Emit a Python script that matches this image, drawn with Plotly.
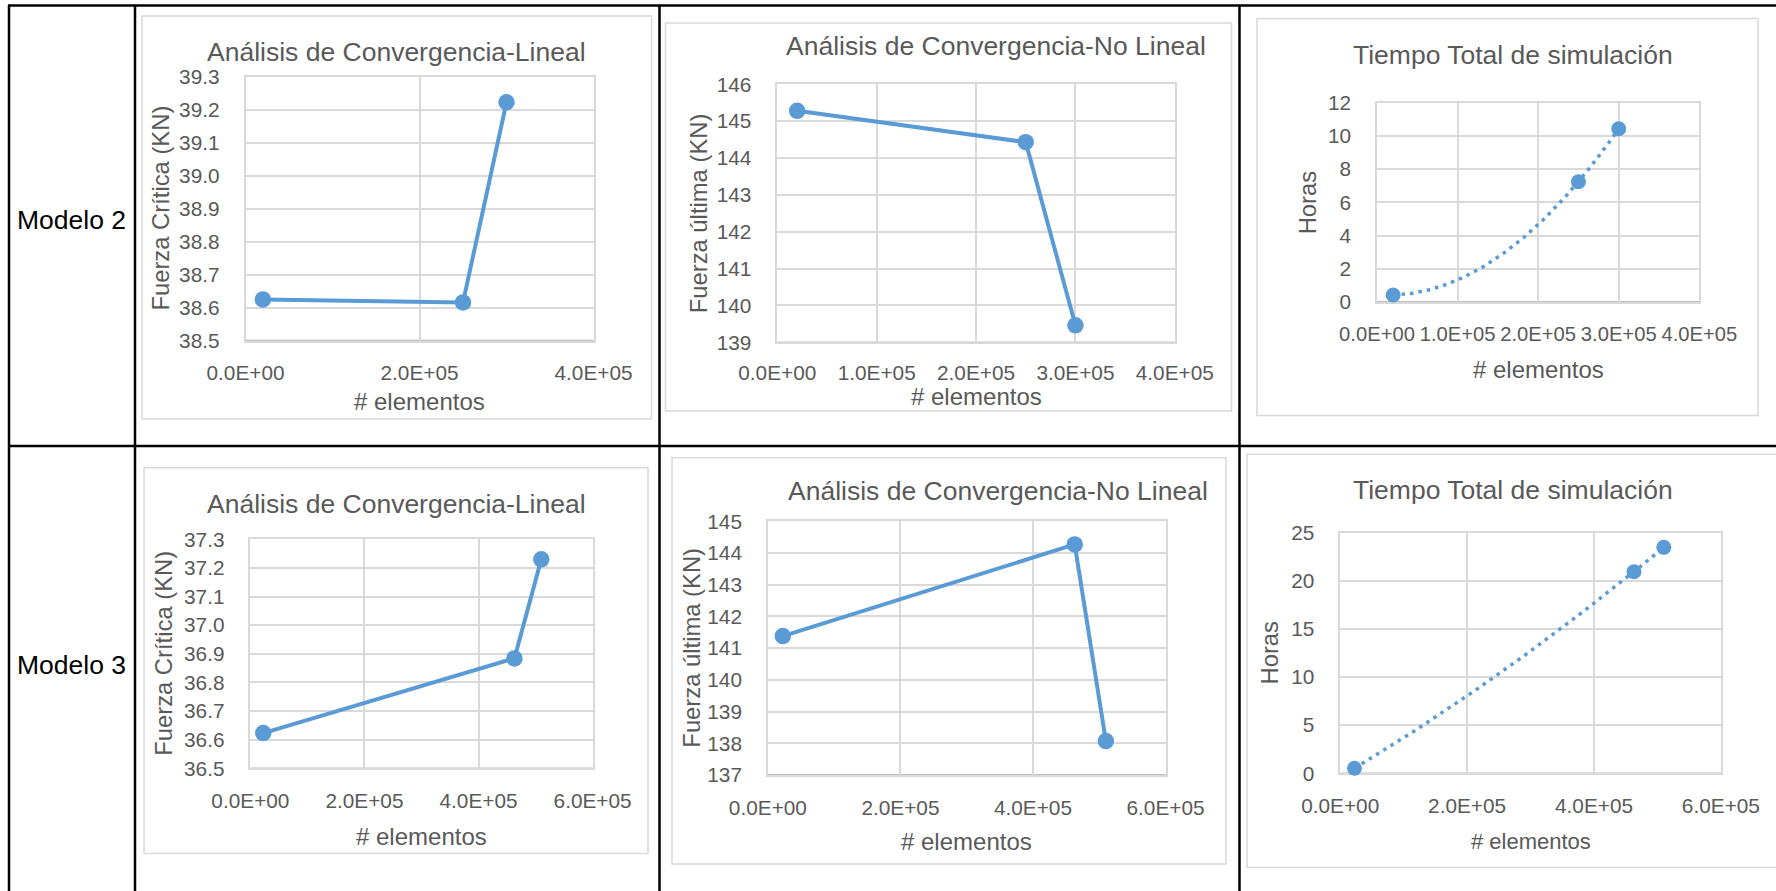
import numpy as np
import plotly.graph_objects as go

W, H = 1776, 891

# ---------------- data ----------------
modelos = ["Modelo 2", "Modelo 3"]

elementos_m2 = [20000, 250000, 300000]
elementos_m3 = [22500, 463000, 510000]

fuerza_critica_m2 = [38.625, 38.616, 39.222]
fuerza_critica_m3 = [36.623, 36.884, 37.230]

fuerza_ultima_m2 = [145.28, 144.43, 139.46]
fuerza_ultima_m3 = [141.38, 144.27, 138.07]

horas_m2 = [0.42, 7.24, 10.43]
horas_m3 = [0.52, 20.95, 23.48]

# tick values / labels
xt_200k_4 = [0, 200000, 400000]
xl_200k_4 = ["0.0E+00", "2.0E+05", "4.0E+05"]
xt_100k_4 = [0, 100000, 200000, 300000, 400000]
xl_100k_4 = ["0.0E+00", "1.0E+05", "2.0E+05", "3.0E+05", "4.0E+05"]
xt_200k_6 = [0, 200000, 400000, 600000]
xl_200k_6 = ["0.0E+00", "2.0E+05", "4.0E+05", "6.0E+05"]

yt_fc_m2 = [38.5, 38.6, 38.7, 38.8, 38.9, 39.0, 39.1, 39.2, 39.3]
yt_fu_m2 = [139, 140, 141, 142, 143, 144, 145, 146]
yt_h_m2 = [0, 2, 4, 6, 8, 10, 12]
yt_fc_m3 = [36.5, 36.6, 36.7, 36.8, 36.9, 37.0, 37.1, 37.2, 37.3]
yt_fu_m3 = [137, 138, 139, 140, 141, 142, 143, 144, 145]
yt_h_m3 = [0, 5, 10, 15, 20, 25]

titulo_lineal = "Análisis de Convergencia-Lineal"
titulo_no_lineal = "Análisis de Convergencia-No Lineal"
titulo_tiempo = "Tiempo Total de simulación"
eje_x = "# elementos"
eje_fc = "Fuerza Crítica (KN)"
eje_fu = "Fuerza última (KN)"
eje_horas = "Horas"

# ---------------- styling ----------------
BLUE = "#5B9BD5"
GRID = "#D9D9D9"
AXIS = "#BFBFBF"
TXT = "#595959"
FONT = "Liberation Sans, Arial, sans-serif"


def px(x):
    return x / W


def py(y):
    return 1 - y / H


# panel geometry (pixels): chart frame, plot area, text anchors
panels = [
    dict(x=elementos_m2, y=fuerza_critica_m2, trend=False,
         frame=(142, 16, 651.5, 419), plot=(245.5, 76.5, 593.5, 340.7),
         xr=[0, 400000], xt=xt_200k_4, xl=xl_200k_4, xfs=20.8, xso=13,
         yr=[38.5, 39.3], yt=yt_fc_m2, yfmt=".1f",
         title=titulo_lineal, title_xy=(396, 52), ytitle=eje_fc, ytitle_x=161,
         xtitle_y=401.7, xtitle_size=24, msize=16.5),
    dict(x=elementos_m2, y=fuerza_ultima_m2, trend=False,
         frame=(665.5, 23, 1231.5, 411), plot=(777.3, 84.3, 1174.8, 342.3),
         xr=[0, 400000], xt=xt_100k_4, xl=xl_100k_4, xfs=20.8, xso=11,
         yr=[139, 146], yt=yt_fu_m2, yfmt="d",
         title=titulo_no_lineal, title_xy=(996, 46), ytitle=eje_fu, ytitle_x=698,
         xtitle_y=396.5, xtitle_size=24, msize=16.5),
    dict(x=elementos_m2, y=horas_m2, trend=True,
         frame=(1257, 18.5, 1758, 415.5), plot=(1377, 102.7, 1699.3, 302),
         xr=[0, 400000], xt=xt_100k_4, xl=xl_100k_4, xfs=20.2, xso=13,
         yr=[0, 12], yt=yt_h_m2, yfmt="d",
         title=titulo_tiempo, title_xy=(1513, 55), ytitle=eje_horas, ytitle_x=1307,
         xtitle_y=369.3, xtitle_size=24, msize=15),
    dict(x=elementos_m3, y=fuerza_critica_m3, trend=False,
         frame=(144, 467.7, 648, 853.5), plot=(250.4, 539.3, 592.6, 768.3),
         xr=[0, 600000], xt=xt_200k_6, xl=xl_200k_6, xfs=20.8, xso=13,
         yr=[36.5, 37.3], yt=yt_fc_m3, yfmt=".1f",
         title=titulo_lineal, title_xy=(396, 504.3), ytitle=eje_fc, ytitle_x=164,
         xtitle_y=836.5, xtitle_size=24, msize=16.5),
    dict(x=elementos_m3, y=fuerza_ultima_m3, trend=False,
         frame=(672, 457.7, 1226, 864), plot=(767.9, 521.3, 1165.5, 775),
         xr=[0, 600000], xt=xt_200k_6, xl=xl_200k_6, xfs=20.8, xso=13,
         yr=[137, 145], yt=yt_fu_m3, yfmt="d",
         title=titulo_no_lineal, title_xy=(998, 491), ytitle=eje_fu, ytitle_x=691.5,
         xtitle_y=841.7, xtitle_size=24, msize=16.5),
    dict(x=elementos_m3, y=horas_m3, trend=True,
         frame=(1247, 454.3, 1779, 867.5), plot=(1340.2, 532.7, 1720.9, 773.3),
         xr=[0, 600000], xt=xt_200k_6, xl=xl_200k_6, xfs=20.8, xso=13,
         yr=[0, 25], yt=yt_h_m3, yfmt="d",
         title=titulo_tiempo, title_xy=(1512.5, 490), ytitle=eje_horas, ytitle_x=1268.5,
         xtitle_y=841.7, xtitle_size=22, msize=15),
]

fig = go.Figure()
shapes = []
annotations = []
layout_axes = {}

for i, p in enumerate(panels, start=1):
    xa = "x" if i == 1 else f"x{i}"
    ya = "y" if i == 1 else f"y{i}"
    l, t, r, b = p["plot"]

    # chart frame
    fl, ft, fr, fb = p["frame"]
    shapes.append(dict(type="rect", xref="paper", yref="paper",
                       x0=px(fl), x1=px(fr), y0=py(fb), y1=py(ft),
                       line=dict(color=GRID, width=1.5), fillcolor="white",
                       layer="below"))

    if p["trend"]:
        # polynomial (order 2) trendline through the series
        coef = np.polyfit(p["x"], p["y"], 2)
        xs = np.linspace(min(p["x"]), max(p["x"]), 200)
        fig.add_trace(go.Scatter(x=xs, y=np.polyval(coef, xs), mode="lines",
                                 line=dict(color=BLUE, width=3.5, dash="3.5px,5px"),
                                 xaxis=xa, yaxis=ya, hoverinfo="skip",
                                 showlegend=False, cliponaxis=False))
        fig.add_trace(go.Scatter(x=p["x"], y=p["y"], mode="markers",
                                 marker=dict(color=BLUE, size=p["msize"]),
                                 xaxis=xa, yaxis=ya, showlegend=False,
                                 cliponaxis=False))
    else:
        fig.add_trace(go.Scatter(x=p["x"], y=p["y"], mode="lines+markers",
                                 line=dict(color=BLUE, width=4),
                                 marker=dict(color=BLUE, size=p["msize"]),
                                 xaxis=xa, yaxis=ya, showlegend=False,
                                 cliponaxis=False))

    key_x = "xaxis" if i == 1 else f"xaxis{i}"
    key_y = "yaxis" if i == 1 else f"yaxis{i}"
    layout_axes[key_x] = dict(
        domain=[px(l), px(r)], anchor=ya, range=p["xr"],
        tickvals=p["xt"], ticktext=p["xl"], ticks="", tickangle=0,
        showgrid=True, gridcolor=GRID, gridwidth=1.5, zeroline=False,
        showline=True, mirror=True, linecolor=GRID, linewidth=1.5,
        layer="below traces",
        tickfont=dict(family=FONT, size=p["xfs"], color=TXT),
        ticklabelstandoff=p["xso"], fixedrange=True, automargin=False,
    )
    layout_axes[key_y] = dict(
        domain=[py(b), py(t)], anchor=xa, range=p["yr"],
        tickvals=p["yt"], tickformat=p["yfmt"], ticks="",
        showgrid=True, gridcolor=GRID, gridwidth=1.5, zeroline=False,
        showline=True, mirror=True, linecolor=GRID, linewidth=1.5,
        layer="below traces",
        tickfont=dict(family=FONT, size=20.8, color=TXT),
        ticklabelstandoff=20, fixedrange=True, automargin=False,
    )

    # horizontal axis line, a shade darker than the gridlines
    shapes.append(dict(type="line", xref=f"{xa} domain", yref=f"{ya} domain",
                       x0=0, x1=1, y0=0, y1=0, layer="below",
                       line=dict(color=AXIS, width=1.8)))

    tx, ty = p["title_xy"]
    annotations.append(dict(text=p["title"], x=px(tx), y=py(ty), xref="paper", yref="paper",
                            showarrow=False, xanchor="center", yanchor="middle",
                            font=dict(family=FONT, size=26.5, color=TXT)))
    annotations.append(dict(text=p["ytitle"], x=px(p["ytitle_x"]), y=py((t + b) / 2),
                            xref="paper", yref="paper", textangle=-90,
                            showarrow=False, xanchor="center", yanchor="middle",
                            font=dict(family=FONT, size=23.8, color=TXT)))
    annotations.append(dict(text=eje_x, x=px((l + r) / 2), y=py(p["xtitle_y"]),
                            xref="paper", yref="paper",
                            showarrow=False, xanchor="center", yanchor="middle",
                            font=dict(family=FONT, size=p["xtitle_size"], color=TXT)))

# table row labels
for name, yc in zip(modelos, [220, 665]):
    annotations.append(dict(text=name, x=px(71.5), y=py(yc), xref="paper", yref="paper",
                            showarrow=False, xanchor="center", yanchor="middle",
                            font=dict(family=FONT, size=26.5, color="black")))

# table rules
TB = dict(color="black", width=2.5)
for xv in [9, 135, 659.5, 1239.5]:
    shapes.append(dict(type="line", xref="paper", yref="paper",
                       x0=px(xv), x1=px(xv), y0=py(5), y1=py(H + 2), line=TB))
for yv in [5.5, 446]:
    shapes.append(dict(type="line", xref="paper", yref="paper",
                       x0=px(8), x1=px(W + 2), y0=py(yv), y1=py(yv), line=TB))

fig.update_layout(
    width=W, height=H, margin=dict(l=0, r=0, t=0, b=0, pad=0, autoexpand=False),
    paper_bgcolor="white", plot_bgcolor="white",
    shapes=shapes, annotations=annotations, showlegend=False,
    font=dict(family=FONT, color=TXT),
    **layout_axes,
)

fig.write_html("out.html")
